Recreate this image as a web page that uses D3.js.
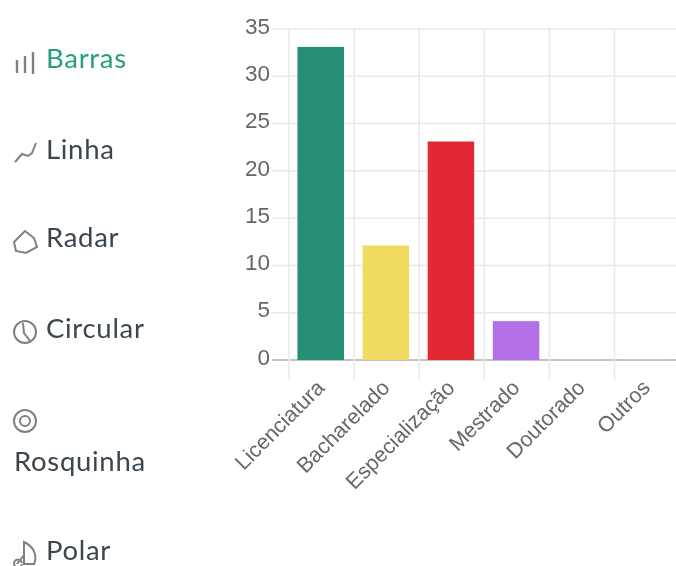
<!DOCTYPE html>
<html>
<head>
<meta charset="utf-8">
<script src="https://cdn.jsdelivr.net/npm/d3@7"></script>
<style>
html, body { margin: 0; padding: 0; background: #fff; overflow: hidden; }
svg { display: block; filter: blur(0.6px); }
.domain { display: none; }
</style>
</head>
<body>
<svg></svg>
<script>
//data
const categories = ["Licenciatura", "Bacharelado", "Especialização", "Mestrado", "Doutorado", "Outros"];
const values = [33, 12, 23, 4, 0, 0];
const barColors = ["#258e75", "#f0da5f", "#e22834", "#b370e6", "#cccccc", "#cccccc"];
const yTicks = [0, 5, 10, 15, 20, 25, 30, 35];
const menuLabels = ["Barras", "Linha", "Radar", "Circular", "Rosquinha", "Polar"];

//constants
const width = 676;
const height = 566;
const margin = {top: 29, right: -2, bottom: 206, left: 289};
const navFont = "Lato, sans-serif";
const axisFont = "'Liberation Sans', Arial, sans-serif";

//canvas
const svg = d3.select("svg")
    .attr("width", width)
    .attr("height", height);

//scales
const xScale = d3.scaleBand()
    .domain(categories)
    .range([margin.left, width - margin.right])
    .paddingInner(0.285)
    .paddingOuter(0.13);

const yScale = d3.scaleLinear()
    .domain([0, 35])
    .range([height - margin.bottom, margin.top]);

const step = xScale.step();
const gridX = d3.range(categories.length + 1).map(i => margin.left + i * step);

//grid
svg.append("g")
    .selectAll("line")
    .data(yTicks)
    .enter()
    .append("line")
    .attr("x1", margin.left - 17)
    .attr("x2", width)
    .attr("y1", d => yScale(d))
    .attr("y2", d => yScale(d))
    .attr("stroke", d => d == 0 ? "#c4c4c4" : "#e8e8e8")
    .attr("stroke-width", d => d == 0 ? 1.8 : 1.5);

svg.append("g")
    .selectAll("line")
    .data(gridX)
    .enter()
    .append("line")
    .attr("x1", d => d)
    .attr("x2", d => d)
    .attr("y1", margin.top)
    .attr("y2", yScale(0) + 20)
    .attr("stroke", "#e8e8e8")
    .attr("stroke-width", 1.5);

//bars
svg.append("g")
    .selectAll("rect")
    .data(categories)
    .enter()
    .append("rect")
    .attr("x", d => xScale(d))
    .attr("y", (d, i) => yScale(values[i]) - 1)
    .attr("width", xScale.bandwidth())
    .attr("height", (d, i) => yScale(0) - yScale(values[i]) + 1)
    .attr("fill", (d, i) => barColors[i]);

//axes
const yAxis = d3.axisLeft(yScale)
    .tickValues(yTicks)
    .tickSize(0)
    .tickPadding(0);

const yGroup = svg.append("g")
    .attr("transform", "translate(" + (margin.left - 19) + ",-3)")
    .call(yAxis);

yGroup.selectAll("text")
    .style("font-family", axisFont)
    .style("font-size", "22.5px")
    .attr("fill", "#666");

const xAxis = d3.axisBottom(xScale)
    .tickSize(0)
    .tickPadding(0);

const xGroup = svg.append("g")
    .attr("transform", "translate(0," + yScale(0) + ")")
    .call(xAxis);

xGroup.selectAll("text")
    .style("font-family", axisFont)
    .style("font-size", "21.5px")
    .style("text-anchor", "end")
    .attr("fill", "#666")
    .attr("dy", 0)
    .attr("y", 0)
    .attr("transform", "translate(5,29) rotate(-45)");

//menu
const menuPos = [[46, 68], [46, 159], [46, 247], [46, 338], [14, 471], [46, 560]];

svg.append("g")
    .selectAll("text")
    .data(menuLabels)
    .enter()
    .append("text")
    .attr("x", (d, i) => menuPos[i][0])
    .attr("y", (d, i) => menuPos[i][1])
    .style("font-family", navFont)
    .style("font-size", "27.5px")
    .style("letter-spacing", "0.7px")
    .attr("fill", (d, i) => i == 0 ? "#25a07f" : "#3c4650")
    .text(d => d);

//menu icons
const icons = svg.append("g")
    .attr("fill", "none")
    .attr("stroke", "#808080")
    .attr("stroke-width", 2);

icons.append("path").attr("d", "M17 60V73M25 56V73M33 52V74").attr("stroke-width", 2.4);
icons.append("path").attr("d", "M15 162L22 154L28 156L32 153L36 143");
icons.append("path").attr("d", "M14 242L25 231L34 238L37 247L26 253L16 251Z");
icons.append("circle").attr("cx", 25).attr("cy", 332).attr("r", 11);
icons.append("path").attr("d", "M23 323L24 333L31 342");
icons.append("circle").attr("cx", 25).attr("cy", 421).attr("r", 11);
icons.append("circle").attr("cx", 25).attr("cy", 421).attr("r", 5);
icons.append("path").attr("d", "M24 542C33 546 38 555 34 564H24ZM24 555L17 564M22 564A4 4 0 1 1 22 563");
</script>
</body>
</html>
